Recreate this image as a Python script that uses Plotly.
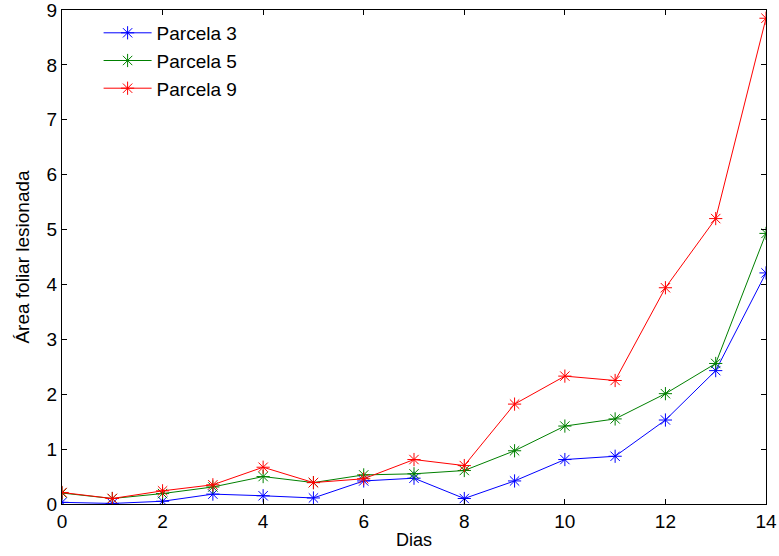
import plotly.graph_objects as go

dias = list(range(15))
parcela3 = [0.03, 0.01, 0.05, 0.18, 0.15, 0.11, 0.42, 0.47, 0.10, 0.42, 0.81, 0.87, 1.53, 2.43, 4.21]
parcela5 = [0.20, 0.10, 0.19, 0.31, 0.50, 0.39, 0.53, 0.55, 0.61, 0.97, 1.42, 1.55, 2.01, 2.56, 4.93]
parcela9 = [0.21, 0.10, 0.24, 0.35, 0.67, 0.39, 0.46, 0.81, 0.70, 1.82, 2.33, 2.25, 3.94, 5.20, 8.85]

series = [("Parcela 3", parcela3, "#0000ff"),
          ("Parcela 5", parcela5, "#008000"),
          ("Parcela 9", parcela9, "#ff0000")]

fig = go.Figure()
for name, vals, col in series:
    fig.add_trace(go.Scatter(
        x=dias, y=vals, name=name, mode="lines+markers",
        line=dict(color=col, width=1),
        marker=dict(symbol="asterisk-open", size=11, color=col, line=dict(color=col, width=1)),
    ))

font = dict(family="Liberation Sans, Arial, Helvetica, sans-serif", size=19, color="black")
fig.update_layout(
    width=779, height=556,
    margin=dict(l=62, r=13, t=10, b=52),
    plot_bgcolor="white", paper_bgcolor="white",
    font=font,
    showlegend=True,
    legend=dict(x=0.052, y=0.992, xanchor="left", yanchor="top",
                bgcolor="rgba(255,255,255,0)", borderwidth=0,
                font=dict(size=19), itemwidth=48, tracegroupgap=0),
)
fig.update_xaxes(range=[0, 14], tickmode="array", tickvals=list(range(0, 15, 2)),
                 ticks="inside", ticklen=5, tickwidth=1, tickcolor="black",
                 showline=True, linecolor="black", linewidth=1, mirror="ticks",
                 showgrid=False, zeroline=False, automargin=False,
                 ticklabeloverflow="allow",
                 title=dict(text="Dias", standoff=2, font=dict(size=18)))
fig.update_yaxes(range=[0, 9], tickmode="array", tickvals=list(range(0, 10)),
                 ticks="inside", ticklen=5, tickwidth=1, tickcolor="black",
                 showline=True, linecolor="black", linewidth=1, mirror="ticks",
                 showgrid=False, zeroline=False, automargin=False,
                 ticklabeloverflow="allow",
                 title=dict(text="Área foliar lesionada", standoff=11, font=dict(size=19)))

fig.write_html("out.html")
